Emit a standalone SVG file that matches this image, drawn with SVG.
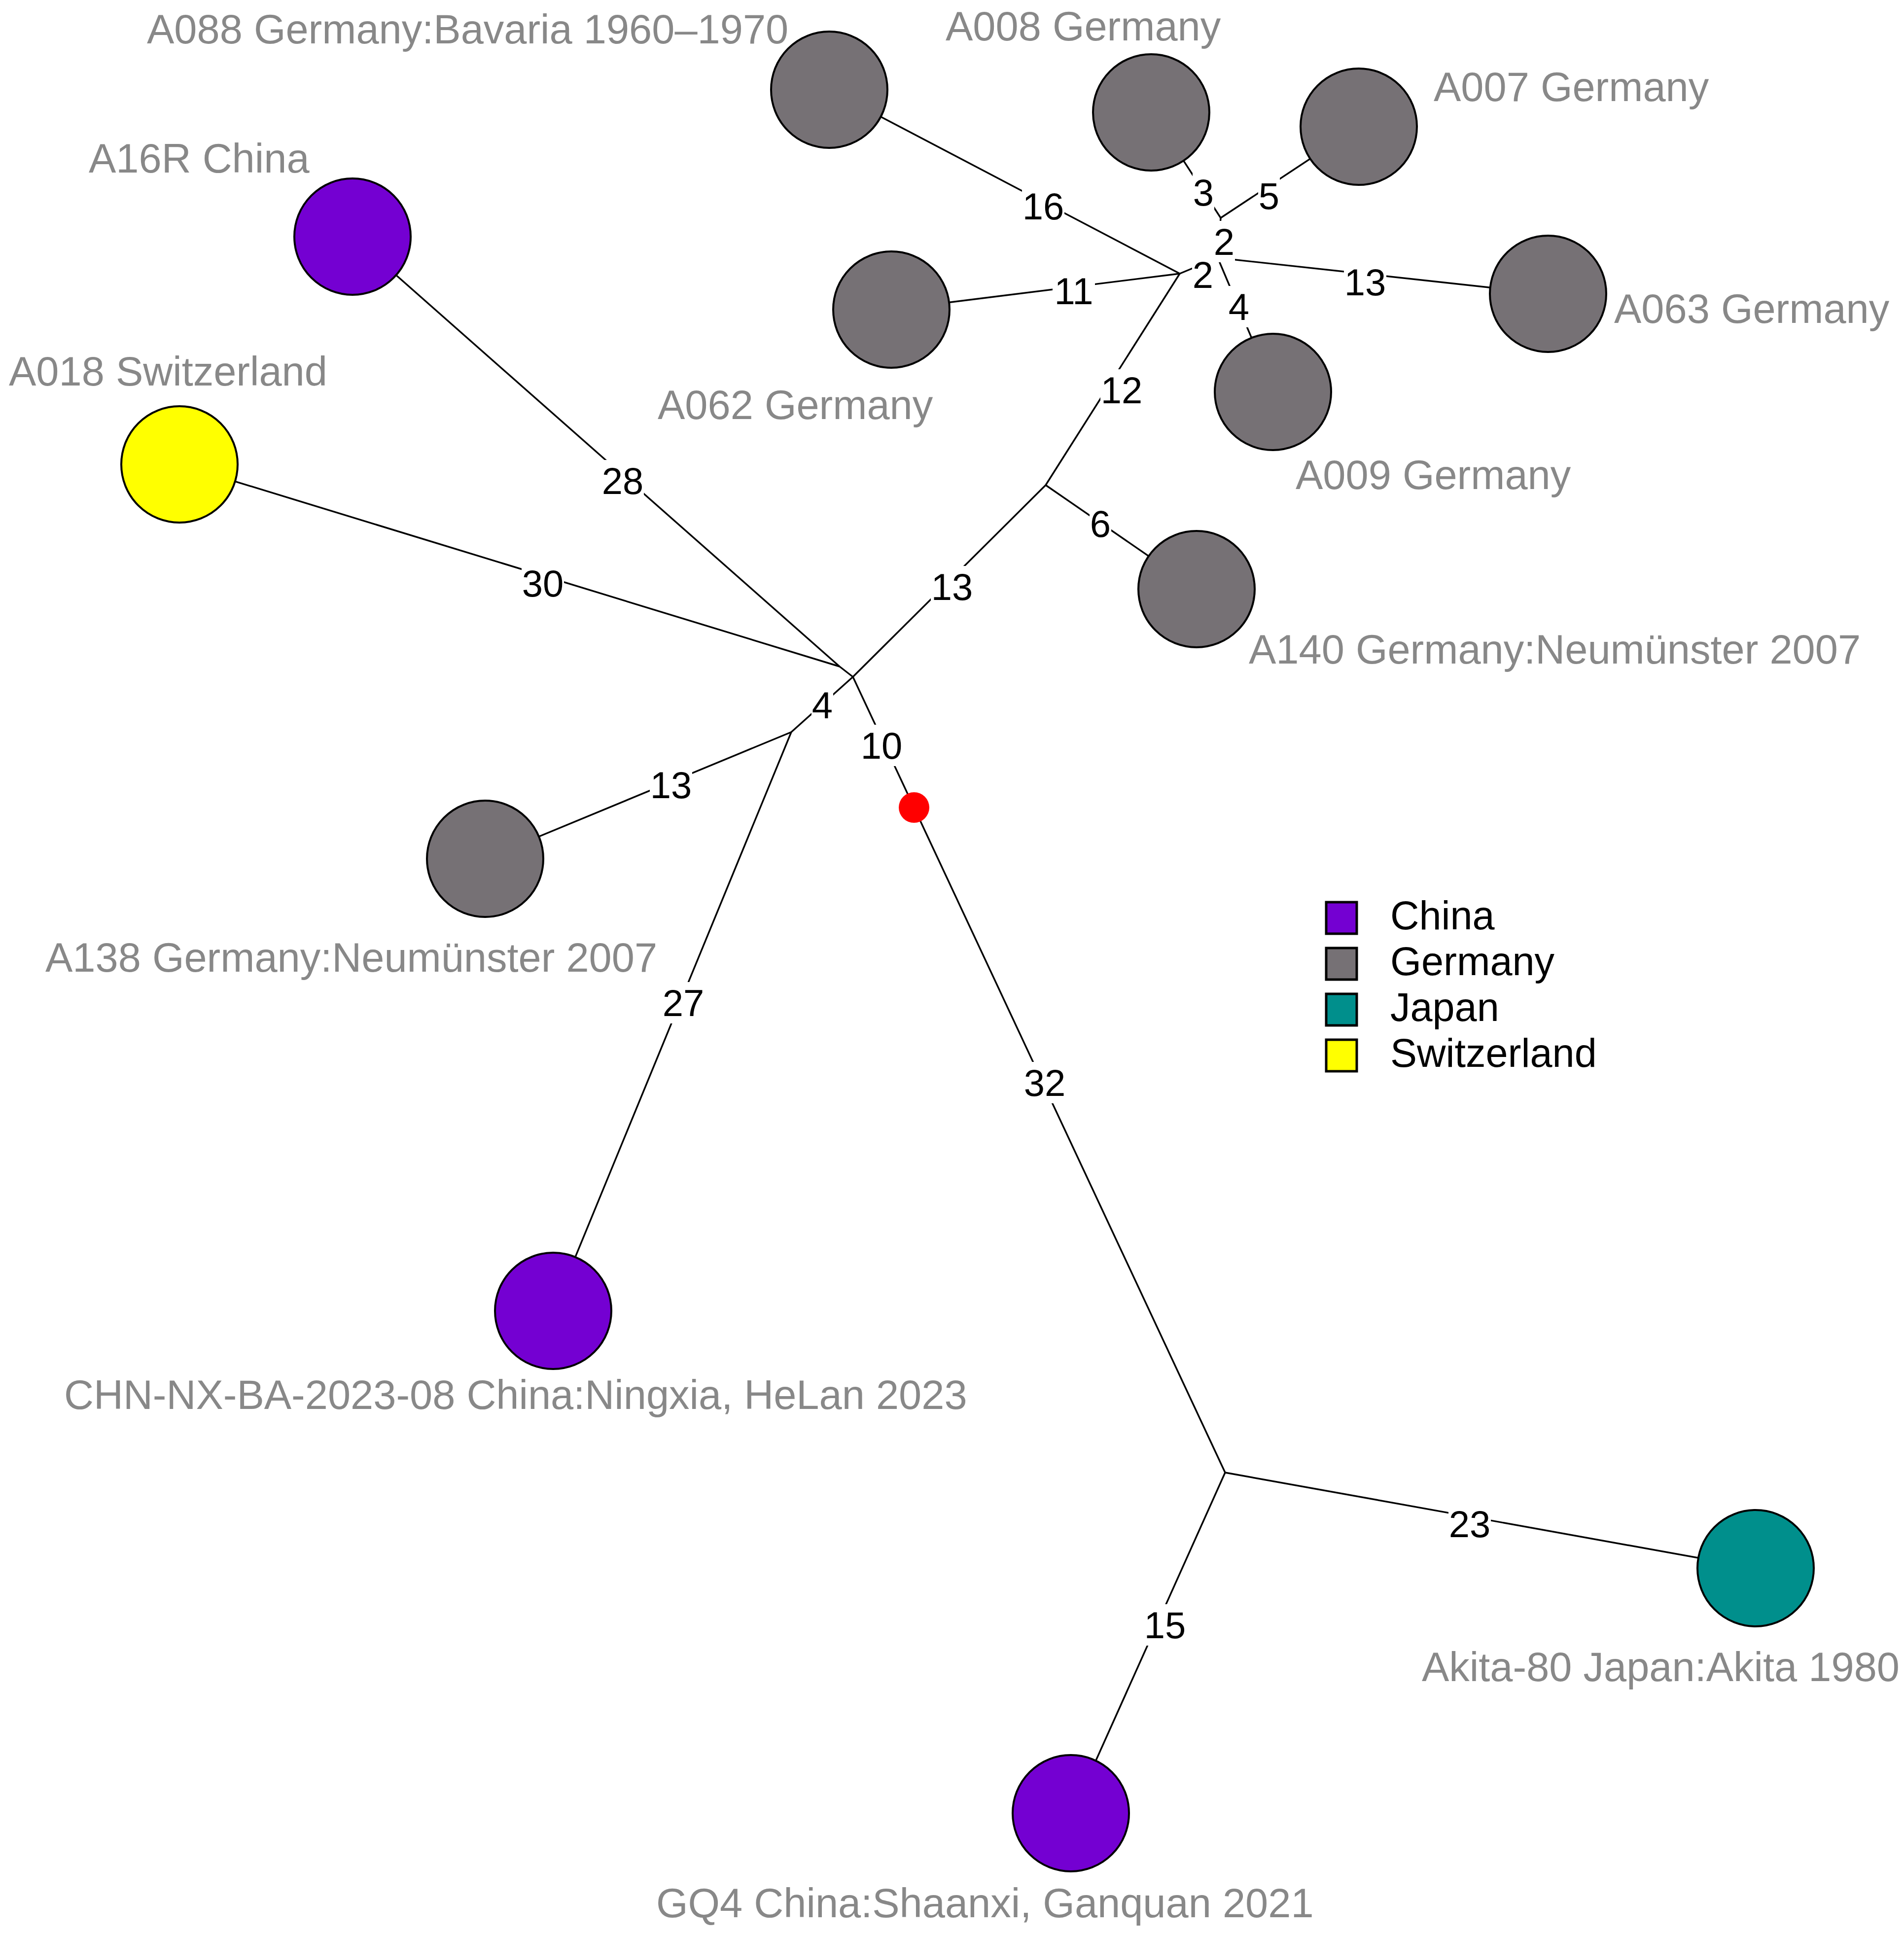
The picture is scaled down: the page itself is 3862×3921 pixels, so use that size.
<svg xmlns="http://www.w3.org/2000/svg" width="3862" height="3921" viewBox="0 0 3862 3921">
<style>
.e{stroke:#000;stroke-width:3.4;fill:none}
.n{stroke:#000;stroke-width:4}
.de{fill:#767175}
.cn{fill:#7400D2}
.jp{fill:#008F8C}
.ch{fill:#FFFF00}
.lb{font-family:"Liberation Sans",Arial,sans-serif;font-size:83px;fill:#888888}
.el{font-family:"Liberation Sans",Arial,sans-serif;font-size:76px;fill:#000;text-anchor:middle}
.bg{fill:#fff}
.lg{font-family:"Liberation Sans",Arial,sans-serif;font-size:81px;fill:#000}
.lr{stroke:#000;stroke-width:5}
</style>
<rect width="3862" height="3921" fill="#fff"/>
<g id="connectors">
<line class="e" x1="1682" y1="182" x2="2393" y2="555"/>
<line class="e" x1="1808" y1="628" x2="2393" y2="555"/>
<line class="e" x1="2393" y1="555" x2="2121" y2="984"/>
<line class="e" x1="2393" y1="555" x2="2470" y2="523"/>
<line class="e" x1="2470" y1="523" x2="2476" y2="442"/>
<line class="e" x1="2476" y1="442" x2="2337" y2="228"/>
<line class="e" x1="2476" y1="442" x2="2756" y2="257"/>
<line class="e" x1="2470" y1="523" x2="3140" y2="596"/>
<line class="e" x1="2470" y1="523" x2="2585" y2="795"/>
<line class="e" x1="2121" y1="984" x2="2427" y2="1195"/>
<line class="e" x1="2121" y1="984" x2="1730" y2="1373"/>
<line class="e" x1="1730" y1="1373" x2="1703" y2="1352"/>
<line class="e" x1="1703" y1="1352" x2="715" y2="480"/>
<line class="e" x1="1703" y1="1352" x2="364" y2="942"/>
<line class="e" x1="1730" y1="1373" x2="1605" y2="1485"/>
<line class="e" x1="1605" y1="1485" x2="984" y2="1742"/>
<line class="e" x1="1605" y1="1485" x2="1122" y2="2659"/>
<line class="e" x1="1730" y1="1373" x2="1854" y2="1638"/>
<line class="e" x1="1854" y1="1638" x2="2485" y2="2987"/>
<line class="e" x1="2485" y1="2987" x2="3561" y2="3181"/>
<line class="e" x1="2485" y1="2987" x2="2174" y2="3680"/>
<g id="edge-labels">
<rect class="bg" x="2073" y="376" width="86" height="84"/><text class="el" x="2116" y="445">16</text>
<rect class="bg" x="2419" y="348" width="44" height="84"/><text class="el" x="2441" y="417">3</text>
<rect class="bg" x="2552" y="355" width="44" height="84"/><text class="el" x="2574" y="424">5</text>
<rect class="bg" x="2461" y="448" width="44" height="84"/><text class="el" x="2483" y="517">2</text>
<rect class="bg" x="2418" y="515" width="44" height="84"/><text class="el" x="2440" y="584">2</text>
<rect class="bg" x="2135" y="548" width="86" height="84"/><text class="el" x="2178" y="617">11</text>
<rect class="bg" x="2726" y="530" width="86" height="84"/><text class="el" x="2769" y="599">13</text>
<rect class="bg" x="2491" y="580" width="44" height="84"/><text class="el" x="2513" y="649">4</text>
<rect class="bg" x="2232" y="749" width="86" height="84"/><text class="el" x="2275" y="818">12</text>
<rect class="bg" x="2210" y="1020" width="44" height="84"/><text class="el" x="2232" y="1089">6</text>
<rect class="bg" x="1888" y="1148" width="86" height="84"/><text class="el" x="1931" y="1217">13</text>
<rect class="bg" x="1220" y="933" width="86" height="84"/><text class="el" x="1263" y="1002">28</text>
<rect class="bg" x="1058" y="1141" width="86" height="84"/><text class="el" x="1101" y="1210">30</text>
<rect class="bg" x="1646" y="1388" width="44" height="84"/><text class="el" x="1668" y="1457">4</text>
<rect class="bg" x="1745" y="1470" width="86" height="84"/><text class="el" x="1788" y="1539">10</text>
<rect class="bg" x="1318" y="1550" width="86" height="84"/><text class="el" x="1361" y="1619">13</text>
<rect class="bg" x="1343" y="1992" width="86" height="84"/><text class="el" x="1386" y="2061">27</text>
<rect class="bg" x="2076" y="2154" width="86" height="84"/><text class="el" x="2119" y="2223">32</text>
<rect class="bg" x="2938" y="3049" width="86" height="84"/><text class="el" x="2981" y="3118">23</text>
<rect class="bg" x="2320" y="3254" width="86" height="84"/><text class="el" x="2363" y="3323">15</text>
</g>
</g>
<g id="A088"><circle class="n de" cx="1682" cy="182" r="118"/><text class="lb" x="298" y="88">A088 Germany:Bavaria 1960–1970</text></g>
<g id="A008"><circle class="n de" cx="2335" cy="228" r="118"/><text class="lb" x="1918" y="82">A008 Germany</text></g>
<g id="A007"><circle class="n de" cx="2756" cy="257" r="118"/><text class="lb" x="2908" y="205">A007 Germany</text></g>
<g id="A063"><circle class="n de" cx="3140" cy="596" r="118"/><text class="lb" x="3274" y="655">A063 Germany</text></g>
<g id="A062"><circle class="n de" cx="1808" cy="628" r="118"/><text class="lb" x="1334" y="850">A062 Germany</text></g>
<g id="A009"><circle class="n de" cx="2582" cy="795" r="118"/><text class="lb" x="2628" y="992">A009 Germany</text></g>
<g id="A140"><circle class="n de" cx="2427" cy="1195" r="118"/><text class="lb" x="2533" y="1346">A140 Germany:Neumünster 2007</text></g>
<g id="A16R"><circle class="n cn" cx="715" cy="480" r="118"/><text class="lb" x="180" y="350">A16R China</text></g>
<g id="A018"><circle class="n ch" cx="364" cy="942" r="118"/><text class="lb" x="18" y="782">A018 Switzerland</text></g>
<g id="A138"><circle class="n de" cx="984" cy="1742" r="118"/><text class="lb" x="92" y="1971">A138 Germany:Neumünster 2007</text></g>
<g id="CHN-NX-BA-2023-08"><circle class="n cn" cx="1122" cy="2659" r="118"/><text class="lb" x="130" y="2858">CHN-NX-BA-2023-08 China:Ningxia, HeLan 2023</text></g>
<g id="GQ4"><circle class="n cn" cx="2172" cy="3678" r="118"/><text class="lb" x="1331" y="3889">GQ4 China:Shaanxi, Ganquan 2021</text></g>
<g id="Akita-80"><circle class="n jp" cx="3561" cy="3181" r="118"/><text class="lb" x="2884" y="3410">Akita-80 Japan:Akita 1980</text></g>
<g id="median"><circle cx="1854" cy="1638" r="31" fill="#FF0000"/></g>
<g id="legend">
<rect class="lr cn" x="2690" y="1830" width="62" height="64"/><text class="lg" x="2820" y="1885">China</text>
<rect class="lr de" x="2690" y="1923" width="62" height="64"/><text class="lg" x="2820" y="1978">Germany</text>
<rect class="lr jp" x="2690" y="2016" width="62" height="64"/><text class="lg" x="2820" y="2071">Japan</text>
<rect class="lr ch" x="2690" y="2109" width="62" height="64"/><text class="lg" x="2820" y="2164">Switzerland</text>
</g>
</svg>
